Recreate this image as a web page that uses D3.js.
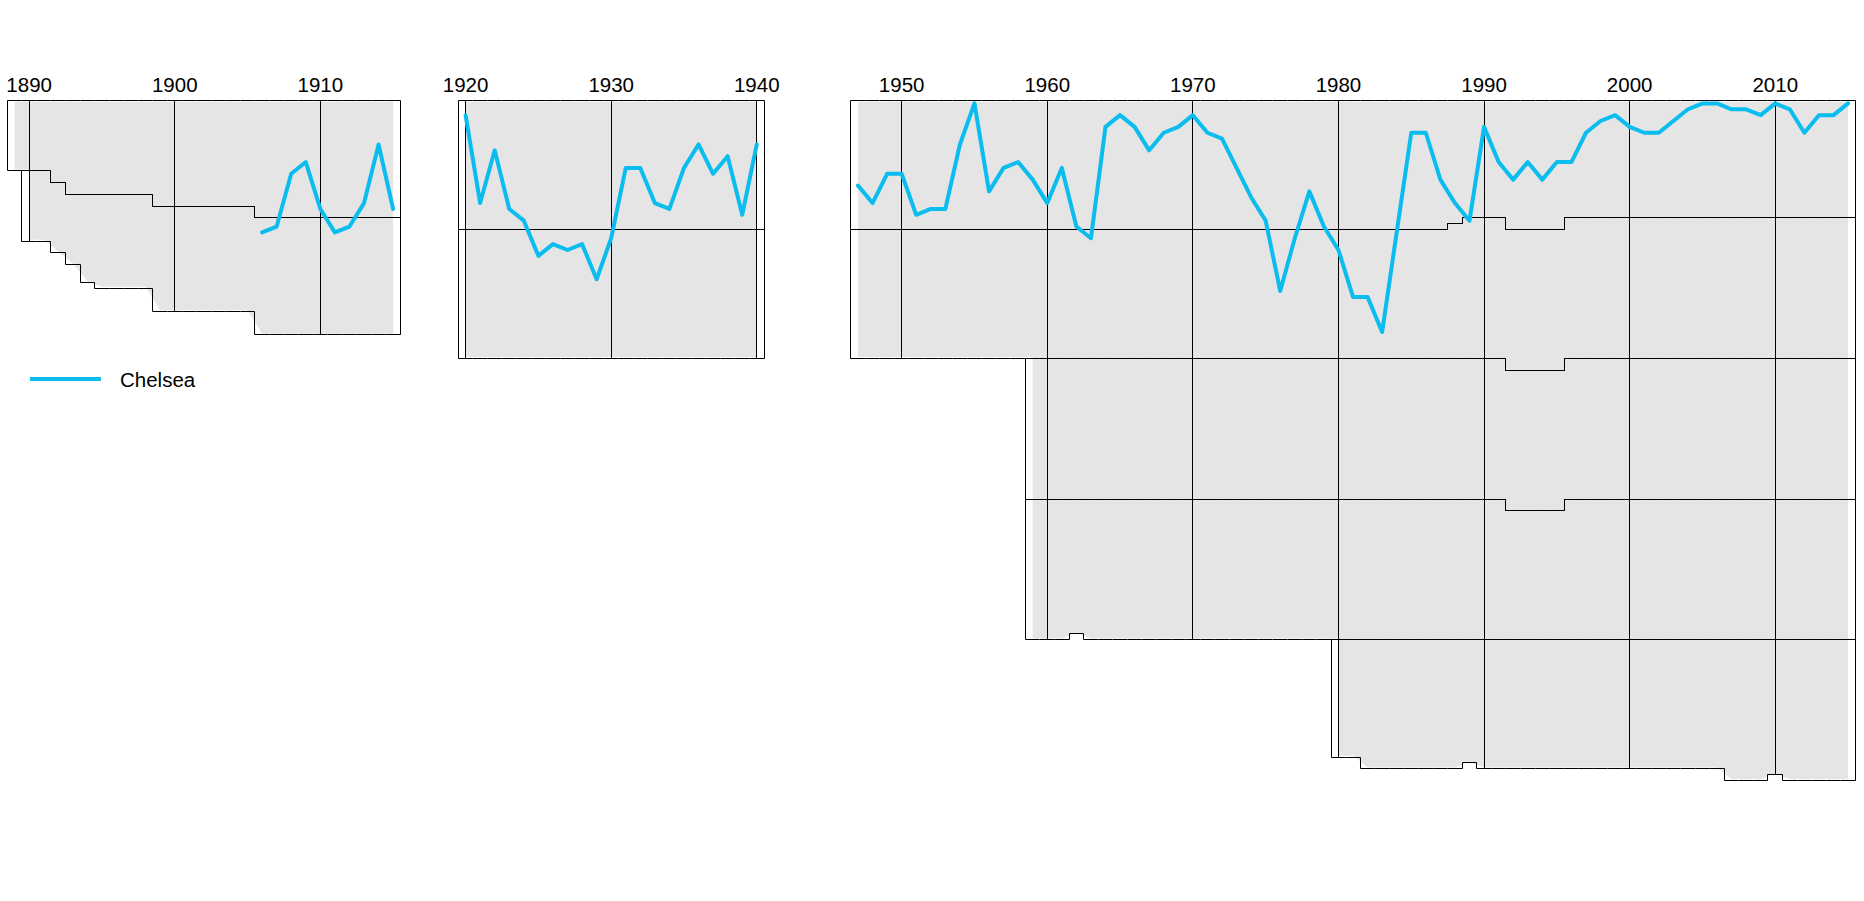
<!DOCTYPE html>
<html><head><meta charset="utf-8">
<script src="https://cdn.jsdelivr.net/npm/d3@7/dist/d3.min.js"></script>
<style>html,body{margin:0;padding:0;background:#fff;overflow:hidden;} svg{display:block;}</style>
</head><body>
<script>
// ---------- DATA ----------
const clubName = "Chelsea";

// Seasons are labelled by the year in which they ended.
// Panel 1: 1888-89 .. 1914-15
const seasons1 = [1889,1890,1891,1892,1893,1894,1895,1896,1897,1898,
                  1899,1900,1901,1902,1903,1904,1905,1906,1907,1908,
                  1909,1910,1911,1912,1913,1914,1915];
const tier1Size1 = [12,12,12,14,16,16,16,16,16,16,
                    18,18,18,18,18,18,18,20,20,20,
                    20,20,20,20,20,20,20];
const tier2Size1 = [0,12,12,12,12,15,16,16,16,16,
                    18,18,18,18,18,18,18,20,20,20,
                    20,20,20,20,20,20,20];
const chelseaYears1 = [1906,1907,1908,1909,1910,1911,1912,1913,1914,1915];
const chelseaRank1  = [23,22,13,11,19,23,22,18,8,19];

// Panel 2: 1919-20 .. 1939-40
const seasons2 = [1920,1921,1922,1923,1924,1925,1926,1927,1928,1929,
                  1930,1931,1932,1933,1934,1935,1936,1937,1938,1939,1940];
const tier1Size2 = [22,22,22,22,22,22,22,22,22,22,22,22,22,22,22,22,22,22,22,22,22];
const tier2Size2 = [22,22,22,22,22,22,22,22,22,22,22,22,22,22,22,22,22,22,22,22,22];
const chelseaRank2 = [3,18,9,19,21,27,25,26,25,31,
                      24,12,12,18,19,12,8,13,10,20,8];

// Panel 3: 1946-47 .. 2014-15
const seasons3 = [1947,1948,1949,1950,1951,1952,1953,1954,1955,1956,
                  1957,1958,1959,1960,1961,1962,1963,1964,1965,1966,
                  1967,1968,1969,1970,1971,1972,1973,1974,1975,1976,
                  1977,1978,1979,1980,1981,1982,1983,1984,1985,1986,
                  1987,1988,1989,1990,1991,1992,1993,1994,1995,1996,
                  1997,1998,1999,2000,2001,2002,2003,2004,2005,2006,
                  2007,2008,2009,2010,2011,2012,2013,2014,2015];
const tier1Size3 = [22,22,22,22,22,22,22,22,22,22,
                    22,22,22,22,22,22,22,22,22,22,
                    22,22,22,22,22,22,22,22,22,22,
                    22,22,22,22,22,22,22,22,22,22,
                    22,21,20,20,20,22,22,22,22,20,
                    20,20,20,20,20,20,20,20,20,20,
                    20,20,20,20,20,20,20,20,20];
const tier2Size3 = [22,22,22,22,22,22,22,22,22,22,
                    22,22,22,22,22,22,22,22,22,22,
                    22,22,22,22,22,22,22,22,22,22,
                    22,22,22,22,22,22,22,22,22,22,
                    22,23,24,24,24,24,24,24,24,24,
                    24,24,24,24,24,24,24,24,24,24,
                    24,24,24,24,24,24,24,24,24];
const tier3Size3 = [0,0,0,0,0,0,0,0,0,0,
                    0,0,24,24,24,24,24,24,24,24,
                    24,24,24,24,24,24,24,24,24,24,
                    24,24,24,24,24,24,24,24,24,24,
                    24,24,24,24,24,24,24,24,24,24,
                    24,24,24,24,24,24,24,24,24,24,
                    24,24,24,24,24,24,24,24,24];
const tier4Size3 = [0,0,0,0,0,0,0,0,0,0,
                    0,0,24,24,24,23,24,24,24,24,
                    24,24,24,24,24,24,24,24,24,24,
                    24,24,24,24,24,24,24,24,24,24,
                    24,24,24,24,24,22,22,22,22,24,
                    24,24,24,24,24,24,24,24,24,24,
                    24,24,24,24,24,24,24,24,24];
const tier5Size3 = [0,0,0,0,0,0,0,0,0,0,
                    0,0,0,0,0,0,0,0,0,0,
                    0,0,0,0,0,0,0,0,0,0,
                    0,0,0,20,20,22,22,22,22,22,
                    22,22,21,22,22,22,22,22,22,22,
                    22,22,22,22,22,22,22,22,22,22,
                    24,24,24,23,24,24,24,24,24];
const chelseaRank3 = [15,18,13,13,20,19,19,8,1,16,
                      12,11,14,18,12,22,24,5,3,5,
                      9,6,5,3,6,7,12,17,21,33,
                      24,16,22,26,34,34,40,23,6,6,
                      14,18,21,5,11,14,11,14,11,11,
                      6,4,3,5,6,6,4,2,1,1,
                      2,2,3,1,2,6,3,3,1];

const ticks1 = [1890,1900,1910];
const ticks2 = [1920,1930,1940];
const ticks3 = [1950,1960,1970,1980,1990,2000,2010];

// ---------- LAYOUT ----------
const W = 1864, H = 901;
const yearPx = 14.56, topY = 100.5, rowPx = 5.862;
const panelLeft = [7.3, 458.3, 850.7];
const lineColor = "#0BBDEF";
const grayFill = "#e5e5e5";
const font = "'Liberation Sans', Arial, sans-serif";

const panels = [
  {seasons: seasons1, tiers: [tier1Size1, tier2Size1], ticks: ticks1, cYears: chelseaYears1, cRank: chelseaRank1},
  {seasons: seasons2, tiers: [tier1Size2, tier2Size2], ticks: ticks2, cYears: seasons2, cRank: chelseaRank2},
  {seasons: seasons3, tiers: [tier1Size3, tier2Size3, tier3Size3, tier4Size3, tier5Size3], ticks: ticks3, cYears: seasons3, cRank: chelseaRank3}
];

const svg = d3.select("body").append("svg").attr("width", W).attr("height", H);
const y = d3.scaleLinear().domain([0, 120]).range([topY, topY + 120 * rowPx]);
const snap = v => Math.round(v - 0.5) + 0.5;

panels.forEach((p, pi) => {
  const n = p.seasons.length;
  const d0 = p.seasons[0] - 0.5, d1 = p.seasons[n - 1] + 0.5;
  const x = d3.scaleLinear().domain([d0, d1]).range([panelLeft[pi], panelLeft[pi] + (d1 - d0) * yearPx]);
  const cum = p.seasons.map((s, i) => { let c = 0; return p.tiers.map(t => (c += t[i])); });
  const totals = cum.map(c => c[c.length - 1]);
  const g = svg.append("g");

  // grey field of all clubs
  const pts = [];
  p.seasons.forEach((s, i) => {
    if (i > 0 && Math.abs(totals[i] - totals[i - 1]) > 4) pts.push({yr: s, n: totals[i - 1]});
    pts.push({yr: s, n: totals[i]});
  });
  g.append("path")
    .attr("d", d3.area().x(d => x(d.yr)).y0(y(0.5) - 1.6).y1(d => y(d.n - 0.5) + 1.6)(pts))
    .attr("fill", grayFill);

  // division outlines (step polygons)
  p.tiers.forEach((t, k) => {
    let i = 0;
    while (i < n) {
      if (t[i] === 0) { i++; continue; }
      let j = i;
      while (j + 1 < n && t[j + 1] > 0) j++;
      const topPts = [], botPts = [];
      for (let m = i; m <= j; m++) {
        const tv = k === 0 ? 0 : cum[m][k - 1], bv = cum[m][k];
        const xa = snap(x(p.seasons[m] - 0.5)), xb = snap(x(p.seasons[m] + 0.5));
        topPts.push([xa, snap(y(tv))], [xb, snap(y(tv))]);
        botPts.push([xa, snap(y(bv))], [xb, snap(y(bv))]);
      }
      const poly = topPts.concat(botPts.reverse());
      g.append("path").attr("d", d3.line()(poly) + "Z")
        .attr("fill", "none").attr("stroke", "#000").attr("stroke-width", 1);
      i = j + 1;
    }
  });

  // decade gridlines and labels
  p.ticks.forEach(tk => {
    const idx = p.seasons.indexOf(tk);
    g.append("line").attr("x1", snap(x(tk))).attr("x2", snap(x(tk)))
      .attr("y1", snap(y(0))).attr("y2", snap(y(totals[idx])))
      .attr("stroke", "#000").attr("stroke-width", 1);
    g.append("text").attr("x", x(tk)).attr("y", 91.5)
      .attr("text-anchor", "middle").attr("font-family", font).attr("font-size", "20.5px")
      .attr("fill", "#000").text(tk);
  });

  // club line
  const cData = p.cYears.map((yr, i) => ({yr, r: p.cRank[i]}));
  g.append("path")
    .attr("d", d3.line().x(d => x(d.yr)).y(d => y(d.r - 0.5))(cData))
    .attr("fill", "none").attr("stroke", lineColor).attr("stroke-width", 4)
    .attr("stroke-linejoin", "round").attr("stroke-linecap", "round");
});

// legend
const lg = svg.append("g");
lg.append("line").attr("x1", 30).attr("x2", 101).attr("y1", 379).attr("y2", 379)
  .attr("stroke", lineColor).attr("stroke-width", 4);
lg.append("text").attr("x", 120).attr("y", 386.5)
  .attr("font-family", font).attr("font-size", "20.5px").attr("fill", "#000").text(clubName);
</script>
</body></html>
